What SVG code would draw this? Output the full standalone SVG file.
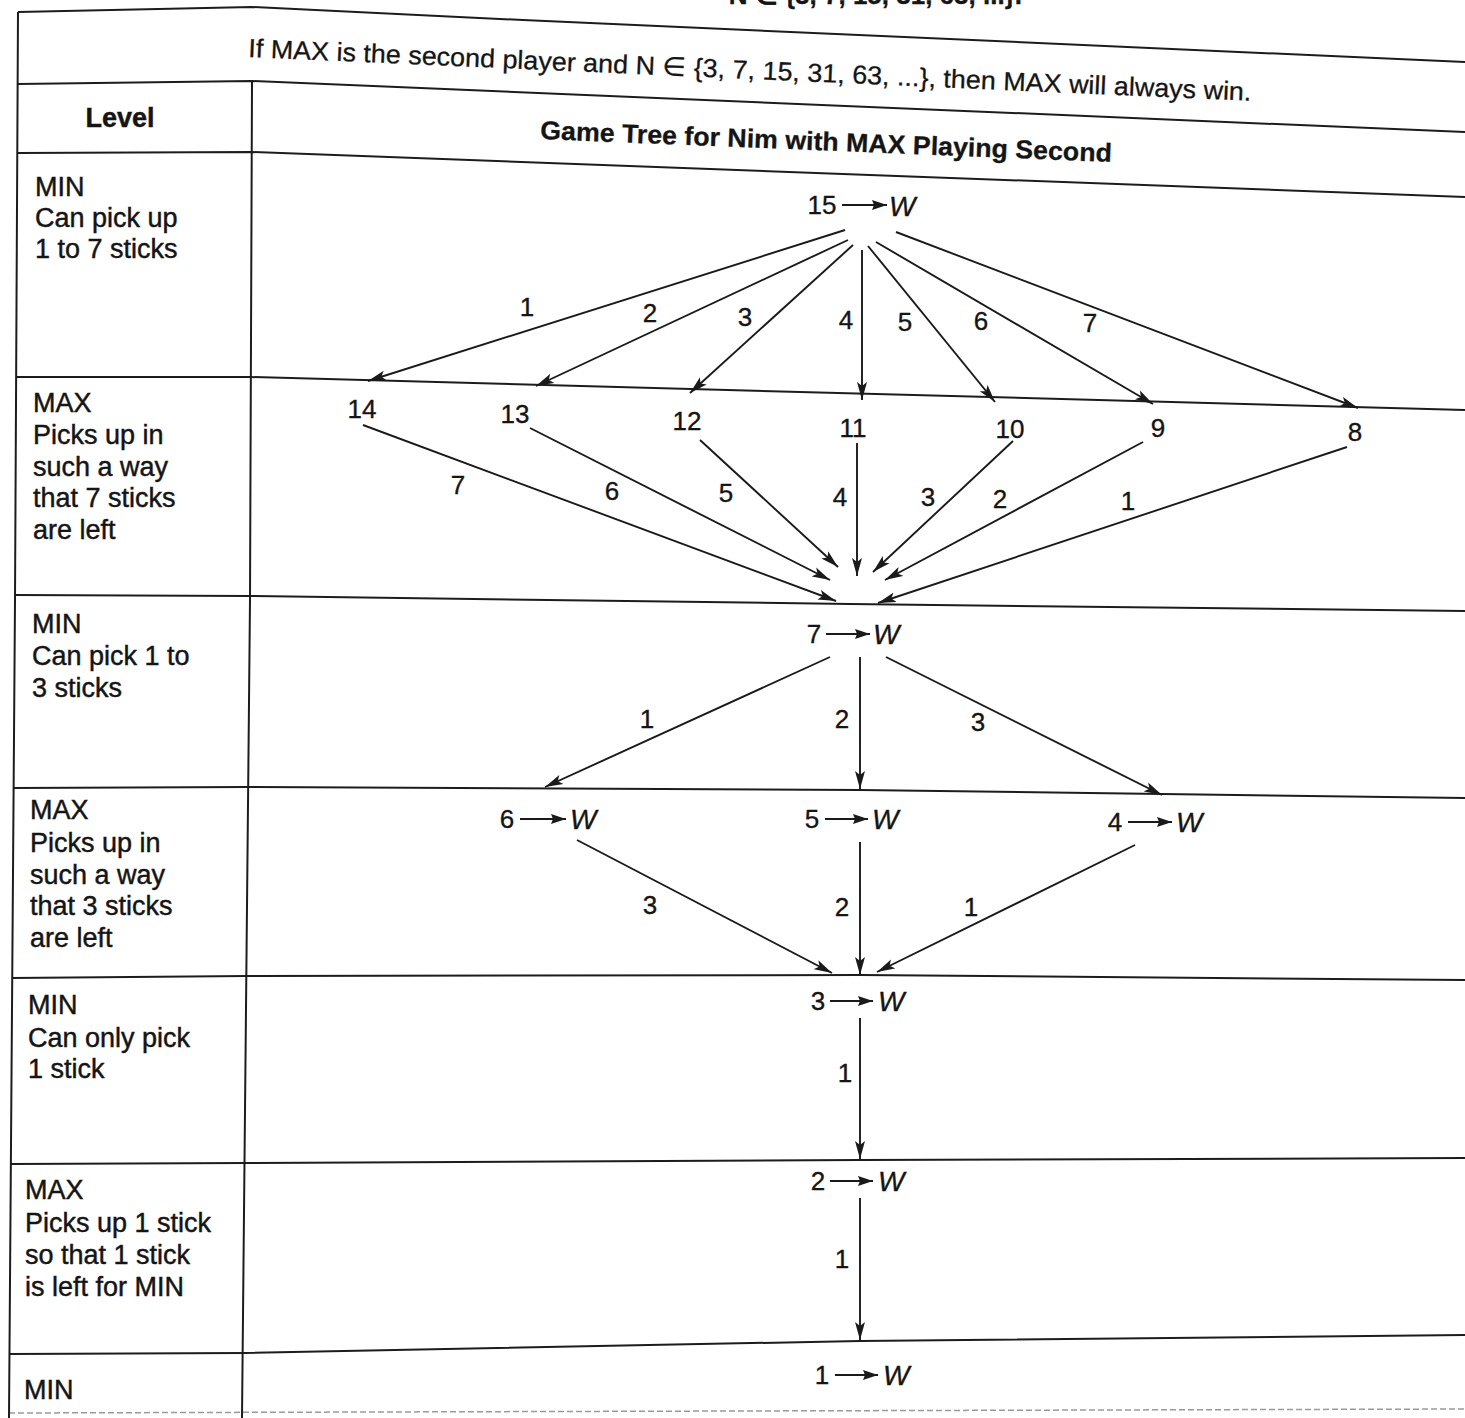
<svg xmlns="http://www.w3.org/2000/svg" width="1465" height="1418" viewBox="0 0 1465 1418">
  <style>
    .grid { fill: none; stroke: #1c1c1c; stroke-width: 2; stroke-linejoin: round; }
    .faint { fill: none; stroke: #9a9a9a; stroke-width: 1.5; stroke-dasharray: 6 3; }
    .edge { fill: none; stroke: #1a1a1a; stroke-width: 1.9; marker-end: url(#head); }
    .mini { fill: none; stroke: #1a1a1a; stroke-width: 2.2; marker-end: url(#minihead); }
    .lvl { font-family: "Liberation Sans", Arial, sans-serif; font-size: 27px; fill: #151515; stroke: #151515; stroke-width: 0.45; }
    .num { font-family: "Liberation Sans", Arial, sans-serif; font-size: 26px; fill: #151515; stroke: #151515; stroke-width: 0.35; text-anchor: middle; }
    .w { font-family: "Liberation Sans", Arial, sans-serif; font-size: 28px; font-style: italic; fill: #151515; stroke: #151515; stroke-width: 0.35; }
    .hdr { font-family: "Liberation Sans", Arial, sans-serif; font-size: 26px; fill: #151515; stroke: #151515; stroke-width: 0.3; }
    .bold { font-weight: bold; }
  </style>
  <defs>
    <marker id="head" markerUnits="userSpaceOnUse" markerWidth="19" markerHeight="11" refX="18" refY="5.5" orient="auto">
      <path d="M0,0.5 L18,5.5 L0,10.5 L4,5.5 z" fill="#1a1a1a"/>
    </marker>
    <marker id="minihead" markerUnits="userSpaceOnUse" markerWidth="16" markerHeight="11" refX="15" refY="5.5" orient="auto">
      <path d="M0,0.5 L15,5.5 L0,10.5 L2,5.5 z" fill="#1a1a1a"/>
    </marker>
  </defs>

  <rect width="1465" height="1418" fill="#ffffff"/>

  <!-- last line of the paragraph above the table, cut at the page edge -->
  <text class="hdr bold" x="1022" y="4" text-anchor="end">N ∈ {3, 7, 15, 31, 63, ...}.</text>

  <!-- table rules (the printed page is slightly skewed) -->
  <g id="table">
    <polyline class="grid" points="18,12 252,7 523,20 1465,62"/>
    <polyline class="grid" points="18,84 252,81 1465,132"/>
    <polyline class="grid" points="18,153 252,152 1465,197"/>
    <polyline class="grid" points="17,377 250,377 1465,410"/>
    <polyline class="grid" points="15,595 249,596 850,604 1465,611"/>
    <polyline class="grid" points="14,788 248,787 860,790 1465,798"/>
    <polyline class="grid" points="12,978 247,976 860,975 1465,980"/>
    <polyline class="grid" points="11,1164 246,1163 860,1160 1465,1158"/>
    <polyline class="grid" points="10,1354 245,1353 860,1341 1465,1335"/>
    <line class="faint" x1="9" y1="1413" x2="1465" y2="1409"/>
    <polyline class="grid" points="18,12 15,600 9,1418"/>
    <polyline class="grid" points="252,82 250,600 242,1418"/>
  </g>

  <!-- header rows -->
  <g id="header">
    <text class="hdr" x="248" y="57" transform="rotate(2.5 248 57)" textLength="1004" lengthAdjust="spacingAndGlyphs">If MAX is the second player and N ∈ {3, 7, 15, 31, 63, ...}, then MAX will always win.</text>
    <text class="lvl bold" x="120" y="127" text-anchor="middle">Level</text>
    <text class="hdr bold" x="540" y="139" transform="rotate(2.3 540 139)" textLength="572" lengthAdjust="spacingAndGlyphs">Game Tree for Nim with MAX Playing Second</text>
  </g>

  <!-- level descriptions -->
  <g id="level-1">
    <text class="lvl" x="35" y="196">MIN</text>
    <text class="lvl" x="35" y="227">Can pick up</text>
    <text class="lvl" x="35" y="258">1 to 7 sticks</text>
  </g>
  <g id="level-2">
    <text class="lvl" x="33" y="412">MAX</text>
    <text class="lvl" x="33" y="444">Picks up in</text>
    <text class="lvl" x="33" y="476">such a way</text>
    <text class="lvl" x="33" y="507">that 7 sticks</text>
    <text class="lvl" x="33" y="539">are left</text>
  </g>
  <g id="level-3">
    <text class="lvl" x="32" y="633">MIN</text>
    <text class="lvl" x="32" y="665">Can pick 1 to</text>
    <text class="lvl" x="32" y="697">3 sticks</text>
  </g>
  <g id="level-4">
    <text class="lvl" x="30" y="819">MAX</text>
    <text class="lvl" x="30" y="852">Picks up in</text>
    <text class="lvl" x="30" y="884">such a way</text>
    <text class="lvl" x="30" y="915">that 3 sticks</text>
    <text class="lvl" x="30" y="947">are left</text>
  </g>
  <g id="level-5">
    <text class="lvl" x="28" y="1014">MIN</text>
    <text class="lvl" x="28" y="1047">Can only pick</text>
    <text class="lvl" x="28" y="1078">1 stick</text>
  </g>
  <g id="level-6">
    <text class="lvl" x="25" y="1199">MAX</text>
    <text class="lvl" x="25" y="1232">Picks up 1 stick</text>
    <text class="lvl" x="25" y="1264">so that 1 stick</text>
    <text class="lvl" x="25" y="1296">is left for MIN</text>
  </g>
  <g id="level-7">
    <text class="lvl" x="24" y="1399">MIN</text>
  </g>

  <!-- game tree nodes -->
  <g id="n15">
    <text class="num" x="822" y="214">15</text>
    <line class="mini" x1="842" y1="205" x2="887" y2="205"/>
    <text class="w" x="889" y="216">W</text>
  </g>
  <g id="n14"><text class="num" x="362" y="418">14</text></g>
  <g id="n13"><text class="num" x="515" y="423">13</text></g>
  <g id="n12"><text class="num" x="687" y="430">12</text></g>
  <g id="n11"><text class="num" x="853" y="437">11</text></g>
  <g id="n10"><text class="num" x="1010" y="438">10</text></g>
  <g id="n9"><text class="num" x="1158" y="437">9</text></g>
  <g id="n8"><text class="num" x="1355" y="441">8</text></g>
  <g id="n7">
    <text class="num" x="814" y="643">7</text>
    <line class="mini" x1="826" y1="634" x2="870" y2="634"/>
    <text class="w" x="873" y="644">W</text>
  </g>
  <g id="n6">
    <text class="num" x="507" y="828">6</text>
    <line class="mini" x1="520" y1="819" x2="566" y2="819"/>
    <text class="w" x="570" y="829">W</text>
  </g>
  <g id="n5">
    <text class="num" x="812" y="828">5</text>
    <line class="mini" x1="825" y1="819" x2="868" y2="819"/>
    <text class="w" x="872" y="829">W</text>
  </g>
  <g id="n4">
    <text class="num" x="1115" y="831">4</text>
    <line class="mini" x1="1128" y1="822" x2="1172" y2="822"/>
    <text class="w" x="1176" y="832">W</text>
  </g>
  <g id="n3">
    <text class="num" x="818" y="1010">3</text>
    <line class="mini" x1="830" y1="1001" x2="873" y2="1001"/>
    <text class="w" x="878" y="1011">W</text>
  </g>
  <g id="n2">
    <text class="num" x="818" y="1190">2</text>
    <line class="mini" x1="830" y1="1181" x2="873" y2="1181"/>
    <text class="w" x="878" y="1191">W</text>
  </g>
  <g id="n1">
    <text class="num" x="822" y="1384">1</text>
    <line class="mini" x1="835" y1="1375" x2="878" y2="1375"/>
    <text class="w" x="883" y="1385">W</text>
  </g>

  <!-- moves between positions -->
  <g id="connectors">
    <line class="edge" x1="845" y1="230" x2="368" y2="381"/>
    <line class="edge" x1="848" y1="240" x2="536" y2="386"/>
    <line class="edge" x1="853" y1="245" x2="690" y2="393"/>
    <line class="edge" x1="862" y1="250" x2="862" y2="400"/>
    <line class="edge" x1="868" y1="246" x2="995" y2="402"/>
    <line class="edge" x1="876" y1="242" x2="1153" y2="404"/>
    <line class="edge" x1="896" y1="232" x2="1358" y2="408"/>

    <line class="edge" x1="363" y1="425" x2="836" y2="601"/>
    <line class="edge" x1="530" y1="428" x2="830" y2="580"/>
    <line class="edge" x1="700" y1="440" x2="838" y2="567"/>
    <line class="edge" x1="857" y1="443" x2="857" y2="576"/>
    <line class="edge" x1="1013" y1="441" x2="873" y2="572"/>
    <line class="edge" x1="1143" y1="442" x2="885" y2="580"/>
    <line class="edge" x1="1347" y1="447" x2="878" y2="603"/>

    <line class="edge" x1="830" y1="657" x2="545" y2="787"/>
    <line class="edge" x1="860" y1="657" x2="860" y2="789"/>
    <line class="edge" x1="886" y1="657" x2="1162" y2="795"/>

    <line class="edge" x1="577" y1="840" x2="832" y2="973"/>
    <line class="edge" x1="860" y1="842" x2="860" y2="975"/>
    <line class="edge" x1="1135" y1="845" x2="877" y2="972"/>

    <line class="edge" x1="860" y1="1018" x2="860" y2="1159"/>
    <line class="edge" x1="860" y1="1198" x2="860" y2="1340"/>

    <!-- move labels -->
    <text class="num" x="527" y="316">1</text>
    <text class="num" x="650" y="322">2</text>
    <text class="num" x="745" y="326">3</text>
    <text class="num" x="846" y="329">4</text>
    <text class="num" x="905" y="331">5</text>
    <text class="num" x="981" y="330">6</text>
    <text class="num" x="1090" y="332">7</text>

    <text class="num" x="458" y="494">7</text>
    <text class="num" x="612" y="500">6</text>
    <text class="num" x="726" y="502">5</text>
    <text class="num" x="840" y="506">4</text>
    <text class="num" x="928" y="506">3</text>
    <text class="num" x="1000" y="508">2</text>
    <text class="num" x="1128" y="510">1</text>

    <text class="num" x="647" y="728">1</text>
    <text class="num" x="842" y="728">2</text>
    <text class="num" x="978" y="731">3</text>

    <text class="num" x="650" y="914">3</text>
    <text class="num" x="842" y="916">2</text>
    <text class="num" x="971" y="916">1</text>

    <text class="num" x="845" y="1082">1</text>
    <text class="num" x="842" y="1268">1</text>
  </g>
</svg>
